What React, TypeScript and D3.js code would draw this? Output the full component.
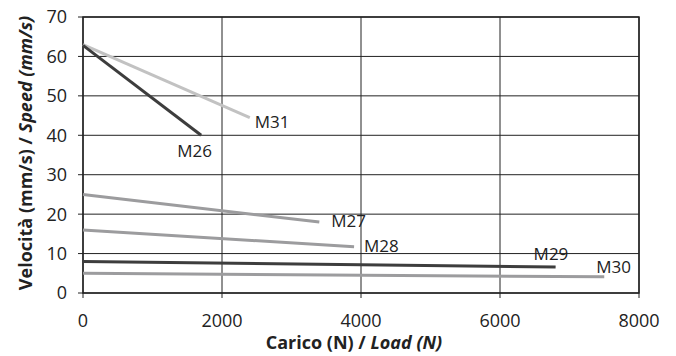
import React from "react"
import * as d3 from "d3"

const seriesNames = ["M31", "M26", "M27", "M28", "M29", "M30"]
const startSpeed = [63, 62.8, 25, 16, 8, 5]
const endLoad = [2400, 1700, 3400, 3900, 6800, 7500]
const endSpeed = [44.5, 40, 18, 11.7, 6.6, 4.1]
const seriesColors = ["#c2c2c2", "#3d3d3d", "#9c9c9e", "#9c9c9e", "#3d3d3d", "#9c9c9e"]
const xTicks = [0, 2000, 4000, 6000, 8000]
const yTicks = [0, 10, 20, 30, 40, 50, 60, 70]
// label offsets relative to the end point of each line
const labelOffsets = [
  [5, 10],
  [-24, 22],
  [12, 5],
  [10, 5],
  [-22, -7],
  [-8, -4],
]

const App = () => {
  const width = 676
  const height = 356
  const margin = { top: 17, right: 37, bottom: 63, left: 83 }
  const innerWidth = width - margin.left - margin.right
  const innerHeight = height - margin.top - margin.bottom

  const xScale = d3.scaleLinear().domain([0, 8000]).range([0, innerWidth])
  const yScale = d3.scaleLinear().domain([0, 70]).range([innerHeight, 0])
  const line = d3
    .line<[number, number]>()
    .x((d) => xScale(d[0]))
    .y((d) => yScale(d[1]))

  const font = "'Open Sans', 'DejaVu Sans', sans-serif"

  return (
    <svg
      width={width}
      height={height}
      style={{ position: "absolute", left: 0, top: 0, background: "#fff" }}
      fontFamily={font}
    >
      <g transform={`translate(${margin.left}, ${margin.top})`}>
        {yTicks.map((t) => (
          <g key={t} transform={`translate(0, ${yScale(t)})`}>
            <line x1={-5} x2={innerWidth} stroke="#222" strokeWidth={1} />
            <text x={-16} dy="0.36em" textAnchor="end" fontSize={18} fill="#222">
              {t}
            </text>
          </g>
        ))}
        {xTicks.map((t) => (
          <g key={t} transform={`translate(${xScale(t)}, 0)`}>
            <line y1={0} y2={innerHeight + 5} stroke="#222" strokeWidth={1} />
            <text y={innerHeight + 34} textAnchor="middle" fontSize={18} fill="#222">
              {t}
            </text>
          </g>
        ))}
        <rect width={innerWidth} height={innerHeight} fill="none" stroke="#222" strokeWidth={1.5} />
        {seriesNames.map((name, i) => (
          <path
            key={name}
            d={line([
              [0, startSpeed[i]],
              [endLoad[i], endSpeed[i]],
            ]) as string}
            fill="none"
            stroke={seriesColors[i]}
            strokeWidth={3}
          />
        ))}
        {seriesNames.map((name, i) => (
          <text
            key={name}
            x={xScale(endLoad[i]) + labelOffsets[i][0]}
            y={yScale(endSpeed[i]) + labelOffsets[i][1]}
            fontSize={17}
            fill="#222"
          >
            {name}
          </text>
        ))}
      </g>
      <text
        x={354}
        y={349}
        textAnchor="middle"
        fontSize={18}
        fontWeight="bold"
        fill="#222"
      >
        Carico (N) / <tspan fontStyle="italic">Load (N)</tspan>
      </text>
      <text
        transform={`translate(32, 153) rotate(-90)`}
        textAnchor="middle"
        fontSize={18}
        fontWeight="bold"
        fill="#222"
      >
        Velocità (mm/s) / <tspan fontStyle="italic">Speed (mm/s)</tspan>
      </text>
    </svg>
  )
}

export default App
